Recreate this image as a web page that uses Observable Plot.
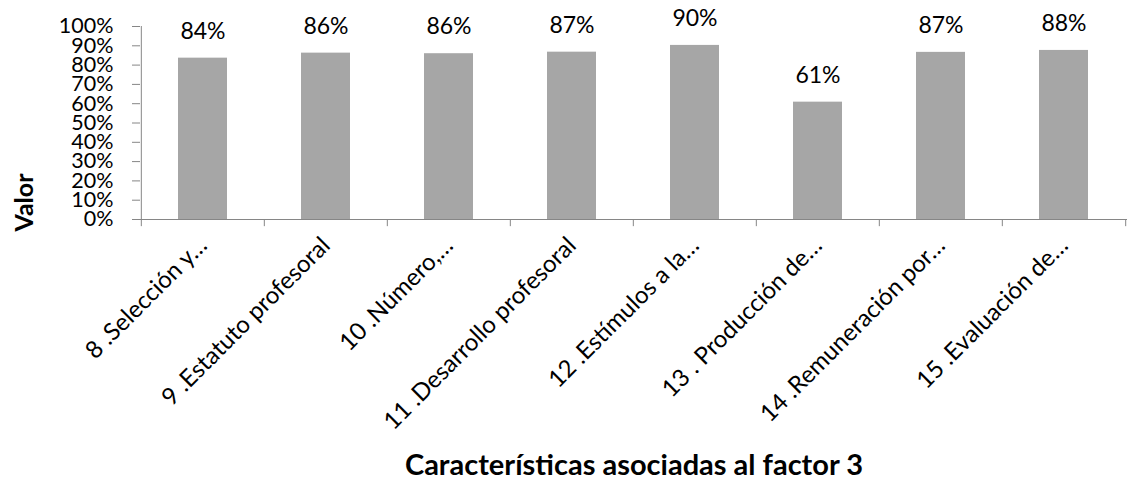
<!DOCTYPE html>
<html>
<head>
<meta charset="utf-8">
<script src="https://cdn.jsdelivr.net/npm/d3@7"></script>
<script src="https://cdn.jsdelivr.net/npm/@observablehq/plot@0.6"></script>
<style>
  html, body { margin: 0; padding: 0; background: #fff; }
  #chart svg { display: block; }
</style>
</head>
<body>
<div id="chart"></div>
<script>
const categories = [
  "8 .Selección y…",
  "9 .Estatuto profesoral",
  "10 .Número,…",
  "11 .Desarrollo profesoral",
  "12 .Estímulos a la…",
  "13 . Producción de…",
  "14 .Remuneración por…",
  "15 .Evaluación de…"
];
const values = [0.836, 0.862, 0.859, 0.867, 0.902, 0.608, 0.866, 0.876];
const yTicks = [0, 0.1, 0.2, 0.3, 0.4, 0.5, 0.6, 0.7, 0.8, 0.9, 1.0];
const xTitle = "Características asociadas al factor 3";
const yTitle = "Valor";

const data = categories.map((c, i) => ({category: c, value: values[i]}));

const W = 1134, H = 495;
const mL = 140, mR = 7, mT = 26, mB = 276;
const step = (W - mL - mR) / categories.length;
const axisColor = "#868686";
const font = "Lato, 'Open Sans', sans-serif";

const chart = Plot.plot({
  width: W,
  height: H,
  marginLeft: mL,
  marginRight: mR,
  marginTop: mT,
  marginBottom: mB,
  style: {fontFamily: font, background: "#fff", color: "#000"},
  x: {domain: categories, paddingInner: 0.6, paddingOuter: 0.3, label: null},
  y: {domain: [0, 1], label: null},
  marks: [
    Plot.barY(data, {x: "category", y: "value", fill: "#a6a6a6"}),
    Plot.text(data, {
      x: "category", y: "value", text: d => Math.round(d.value * 100) + "%",
      dy: -27, fontSize: 23, fill: "#000"
    }),
    // y axis
    Plot.axisY({
      ticks: yTicks, tickFormat: d => Math.round(d * 100) + "%",
      tickSize: 8, tickPadding: 19, fontSize: 21.5, stroke: axisColor, color: "#000",
      label: null
    }),
    Plot.ruleX(categories.slice(0, 1), {x: d => d, dx: -step / 2, y1: 0, y2: 1, stroke: axisColor}),
    Plot.ruleY([0], {stroke: axisColor}),
    // x axis category boundary ticks
    Plot.ruleX(categories, {x: d => d, dx: -step / 2, y1: 0, y2: -0.037, stroke: axisColor}),
    Plot.ruleX(categories.slice(-1), {x: d => d, dx: step / 2, y1: 0, y2: -0.037, stroke: axisColor}),
    Plot.axisX({
      tickSize: 0, tickRotate: -45, tickPadding: 22, fontSize: 24, label: null, color: "#000",
      dx: 0
    }),
    Plot.text([yTitle], {
      frameAnchor: "bottom-left", rotate: -90, dx: -116, dy: -17,
      textAnchor: "middle", lineAnchor: "middle",
      fontSize: 25, fontWeight: "bold", fill: "#000"
    }),
    Plot.text([xTitle], {
      frameAnchor: "bottom", dy: 246,
      textAnchor: "middle", lineAnchor: "middle",
      fontSize: 29, fontWeight: "bold", fill: "#000"
    })
  ]
});
document.getElementById("chart").appendChild(chart);
</script>
</body>
</html>
